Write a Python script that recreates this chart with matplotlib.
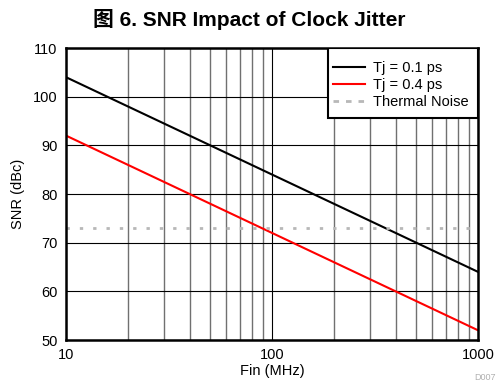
import numpy as np
import matplotlib
matplotlib.use("Agg")
import matplotlib.pyplot as plt
from matplotlib.patches import Rectangle
from matplotlib.ticker import LogLocator, FixedLocator, NullFormatter

plt.rcParams['font.family'] = ['Liberation Sans', 'Noto Sans CJK SC', 'DejaVu Sans']

## Data
fin = [10, 100, 1000]
snr_01ps = [104.0, 84.0, 64.0]
snr_04ps = [92.0, 72.0, 52.0]
thermal_x = [10, 1000]
thermal_y = [73.0, 73.0]

fig = plt.figure(figsize=(4.98, 3.85), dpi=100)
ax = fig.add_axes([66/498, 1 - 340/385, 412/498, 292/385])

ax.set_xscale('log')
ax.set_xlim(10, 1000)
ax.set_ylim(50, 110)

ax.xaxis.set_major_locator(FixedLocator([10, 100, 1000]))
ax.xaxis.set_major_formatter(matplotlib.ticker.FuncFormatter(lambda v, p: "%d" % v))
ax.xaxis.set_minor_locator(LogLocator(base=10, subs=np.arange(2, 10)))
ax.xaxis.set_minor_formatter(NullFormatter())
ax.set_yticks(range(50, 111, 10))

ax.grid(which='major', color='black', lw=0.8)
ax.grid(which='minor', axis='x', color='#707070', lw=1.0)
ax.tick_params(which='both', length=0, labelsize=10.5, pad=6)
for s in ax.spines.values():
    s.set_linewidth(1.8)

ax.plot(fin, snr_01ps, color='black', lw=1.5, label='Tj = 0.1 ps')
ax.plot(fin, snr_04ps, color='red', lw=1.5, label='Tj = 0.4 ps')
ax.plot(thermal_x, thermal_y, color='#b8b8b8', lw=2.0, ls=(0, (1.2, 3.6)), label='Thermal Noise')

# legend box: white frame drawn separately so padding can match the original
box = Rectangle((262/412, 222/292), 150/412, 70/292, transform=ax.transAxes,
                facecolor='white', edgecolor='black', lw=1.5, zorder=4)
ax.add_patch(box)
leg = ax.legend(loc='upper left', bbox_to_anchor=(267/412, 279/292), fontsize=10.5,
                frameon=False, borderaxespad=0, borderpad=0, handlelength=2.2,
                handletextpad=0.55, labelspacing=0.22)
leg.set_zorder(5)
leg.get_lines()[2].set_linestyle((0, (2, 2.5)))

ax.set_xlabel('Fin (MHz)', fontsize=10.5, labelpad=1)
ax.set_ylabel('SNR (dBc)', fontsize=10.5, labelpad=6)
fig.text(0.5, 1 - 20/385, '图 6. SNR Impact of Clock Jitter', ha='center', va='center',
         fontsize=15, fontweight='bold')
fig.text(474/498, 1 - 378/385, 'D007', fontsize=6.5, color='#b0b0b0', ha='left', va='center')

fig.savefig('out.png', dpi=100)
